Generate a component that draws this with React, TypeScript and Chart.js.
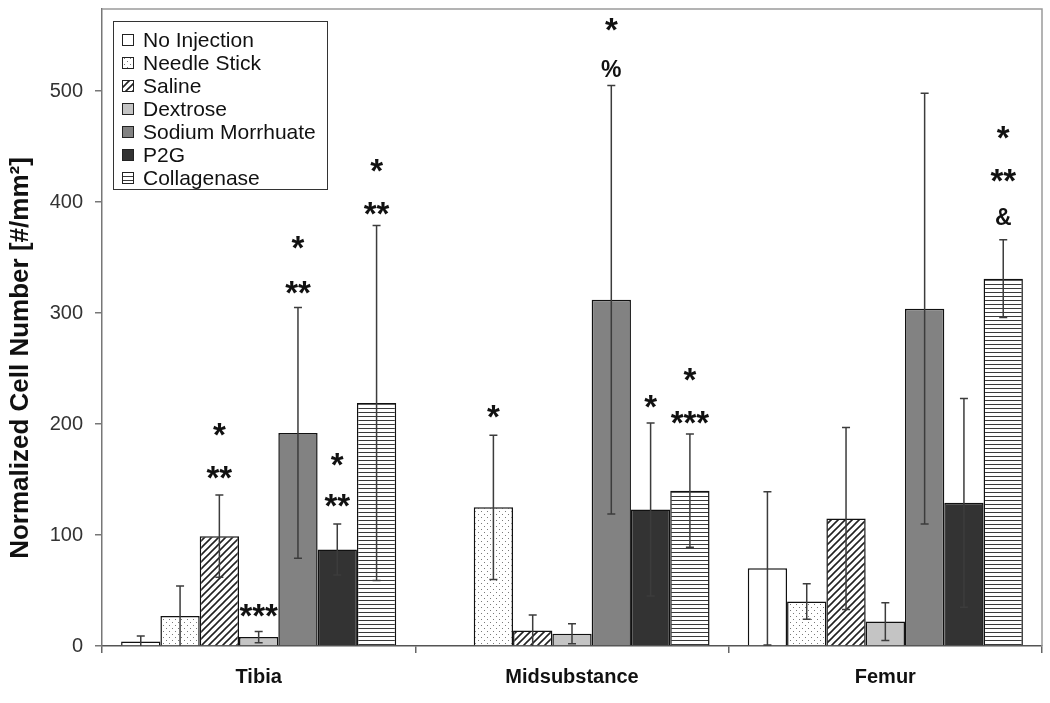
import React, { useEffect, useRef } from "react";
import { Chart, registerables } from "chart.js";

Chart.register(...registerables);

const FONT = '"Liberation Sans", Arial, Helvetica, sans-serif';

// ---- data ----
const categories = ["Tibia", "Midsubstance", "Femur"];
const seriesNames = [
  "No Injection",
  "Needle Stick",
  "Saline",
  "Dextrose",
  "Sodium Morrhuate",
  "P2G",
  "Collagenase",
];
const noInjection = [4, 0, 70];
const needleStick = [27, 125, 40];
const saline = [99, 14, 115];
const dextrose = [8, 11, 22];
const sodiumMorrhuate = [192, 312, 304];
const p2g = [87, 123, 129];
const collagenase = [219, 140, 331];

const noInjectionErr = [5, 0, 69];
const needleStickErr = [27, 65, 16];
const salineErr = [37, 14, 82];
const dextroseErr = [5, 9, 17];
const sodiumMorrhuateErr = [113, 193, 194];
const p2gErr = [23, 78, 94];
const collagenaseErr = [160, 51, 35];

const yTicks = [0, 100, 200, 300, 400, 500];
const yMax = 574;
const yTitle = "Normalized Cell Number [#/mm²]";

// significance marks: [series index, category index, text, value position]
const marks: [number, number, string, number][] = [
  [2, 0, "*", 197],
  [2, 0, "**", 158],
  [3, 0, "***", 34],
  [4, 0, "*", 366],
  [4, 0, "**", 325],
  [5, 0, "*", 170],
  [5, 0, "**", 133],
  [6, 0, "*", 435],
  [6, 0, "**", 396],
  [1, 1, "*", 213],
  [4, 1, "*", 562],
  [4, 1, "%", 520],
  [5, 1, "*", 222],
  [6, 1, "*", 247],
  [6, 1, "***", 208],
  [6, 2, "*", 465],
  [6, 2, "**", 426],
  [6, 2, "&", 387],
];

const values = [noInjection, needleStick, saline, dextrose, sodiumMorrhuate, p2g, collagenase];
const errors = [
  noInjectionErr,
  needleStickErr,
  salineErr,
  dextroseErr,
  sodiumMorrhuateErr,
  p2gErr,
  collagenaseErr,
];

function makeFill(kind: string): string | CanvasPattern {
  if (kind === "white") return "#ffffff";
  if (kind === "light") return "#c4c4c4";
  if (kind === "mid") return "#828282";
  if (kind === "dark") return "#333333";
  const c = document.createElement("canvas");
  const g = c.getContext("2d") as CanvasRenderingContext2D;
  if (kind === "dots") {
    c.width = 6;
    c.height = 6;
    g.fillStyle = "#ffffff";
    g.fillRect(0, 0, 6, 6);
    g.fillStyle = "#7a7a7a";
    g.fillRect(1, 1, 1, 1);
    g.fillRect(4, 4, 1, 1);
  } else if (kind === "diag") {
    c.width = 7;
    c.height = 7;
    g.fillStyle = "#ffffff";
    g.fillRect(0, 0, 7, 7);
    g.strokeStyle = "#222222";
    g.lineWidth = 1.6;
    g.beginPath();
    g.moveTo(-1, 8);
    g.lineTo(8, -1);
    g.moveTo(-3, 3);
    g.lineTo(3, -3);
    g.moveTo(4, 10);
    g.lineTo(10, 4);
    g.stroke();
  } else if (kind === "hlines") {
    c.width = 4;
    c.height = 4;
    g.fillStyle = "#ffffff";
    g.fillRect(0, 0, 4, 4);
    g.fillStyle = "#3a3a3a";
    g.fillRect(0, 0, 4, 1);
  }
  return g.createPattern(c, "repeat") as CanvasPattern;
}

const fillKinds = ["white", "dots", "diag", "light", "mid", "dark", "hlines"];

export default function App() {
  const ref = useRef<HTMLCanvasElement | null>(null);

  useEffect(() => {
    if (!ref.current) return;
    const fills = fillKinds.map(makeFill);

    const overlay = {
      id: "overlay",
      afterDatasetsDraw(chart: any) {
        const ctx = chart.ctx as CanvasRenderingContext2D;
        const ys = chart.scales.y;
        // error bars
        chart.data.datasets.forEach((ds: any, di: number) => {
          const meta = chart.getDatasetMeta(di);
          meta.data.forEach((bar: any, i: number) => {
            const v = ds.data[i];
            const e = errors[di][i];
            if (!e) return;
            const top = ys.getPixelForValue(v + e);
            const low = Math.max(0, v - e);
            const bot = ys.getPixelForValue(low);
            ctx.save();
            ctx.strokeStyle = "#3c3c3c";
            ctx.lineWidth = 1.5;
            ctx.beginPath();
            ctx.moveTo(bar.x, top);
            ctx.lineTo(bar.x, bot);
            ctx.moveTo(bar.x - 4, top);
            ctx.lineTo(bar.x + 4, top);
            if (low > 0) {
              ctx.moveTo(bar.x - 4, bot);
              ctx.lineTo(bar.x + 4, bot);
            }
            ctx.stroke();
            ctx.restore();
          });
        });
        // significance marks
        marks.forEach(([si, ci, text, val]) => {
          const bar = chart.getDatasetMeta(si).data[ci];
          const y = ys.getPixelForValue(val);
          const isStar = /^\*+$/.test(text);
          const size = isStar ? 33 : 23;
          ctx.save();
          ctx.fillStyle = "#111111";
          ctx.font = `bold ${size}px ${FONT}`;
          ctx.textAlign = "center";
          ctx.textBaseline = "alphabetic";
          const off = isStar ? 0.57 : 0.36;
          ctx.fillText(text, bar.x, y + off * size);
          ctx.restore();
        });
      },
      afterDraw(chart: any) {
        const ctx = chart.ctx as CanvasRenderingContext2D;
        const a = chart.chartArea;
        // frame (top + right)
        ctx.save();
        ctx.strokeStyle = "#9a9a9a";
        ctx.lineWidth = 1.5;
        ctx.beginPath();
        ctx.moveTo(a.left, a.top);
        ctx.lineTo(a.right, a.top);
        ctx.lineTo(a.right, a.bottom);
        ctx.stroke();
        ctx.restore();
        // y axis title
        ctx.save();
        ctx.translate(21, 358);
        ctx.rotate(-Math.PI / 2);
        ctx.fillStyle = "#111111";
        ctx.font = `bold 26px ${FONT}`;
        ctx.textAlign = "center";
        ctx.textBaseline = "middle";
        ctx.fillText(yTitle, 0, 0);
        ctx.restore();
        // legend box
        const lx = a.left + 11;
        const ly = a.top + 12;
        const lw = 214;
        const rowH = 23;
        const lh = 19 + rowH * (seriesNames.length - 1) + 11;
        ctx.save();
        ctx.fillStyle = "#ffffff";
        ctx.fillRect(lx, ly, lw, lh);
        ctx.strokeStyle = "#333333";
        ctx.lineWidth = 1;
        ctx.strokeRect(lx + 0.5, ly + 0.5, lw, lh);
        seriesNames.forEach((name, i) => {
          const cy = ly + 19 + i * rowH;
          ctx.fillStyle = fills[i] as any;
          ctx.fillRect(lx + 9, cy - 6, 12, 12);
          ctx.strokeStyle = "#222222";
          ctx.lineWidth = 1;
          ctx.strokeRect(lx + 9.5, cy - 5.5, 11, 11);
          ctx.fillStyle = "#111111";
          ctx.font = `21px ${FONT}`;
          ctx.textAlign = "left";
          ctx.textBaseline = "middle";
          ctx.fillText(name, lx + 30, cy + 1);
        });
        ctx.restore();
      },
    };

    const chart = new Chart(ref.current, {
      type: "bar",
      data: {
        labels: categories,
        datasets: seriesNames.map((name, i) => ({
          label: name,
          data: values[i],
          backgroundColor: fills[i] as any,
          borderColor: "#111111",
          borderWidth: 1.5,
          categoryPercentage: 0.878,
          barPercentage: 1.0,
        })),
      },
      options: {
        animation: false,
        responsive: true,
        maintainAspectRatio: false,
        layout: { padding: { top: 9, right: 8, left: 0, bottom: 0 } },
        plugins: {
          legend: { display: false },
          tooltip: { enabled: false },
        },
        scales: {
          x: {
            grid: {
              display: true,
              drawOnChartArea: false,
              tickLength: 7,
              color: "#666666",
              lineWidth: 1.5,
              offset: true,
            },
            border: { display: true, color: "#555555", width: 1.5 },
            ticks: {
              font: { family: FONT, size: 20, weight: "bold" },
              color: "#111111",
              padding: 12,
              maxRotation: 0,
            },
            afterFit: (s: any) => {
              s.height = 57;
              s.paddingLeft = 0;
              s.paddingRight = 0;
            },
          },
          y: {
            min: 0,
            max: yMax,
            afterBuildTicks: (s: any) => {
              s.ticks = yTicks.map((v) => ({ value: v }));
            },
            grid: {
              display: true,
              drawOnChartArea: false,
              tickLength: 7,
              color: "#777777",
              lineWidth: 1.5,
            },
            border: { display: true, color: "#777777", width: 1.5 },
            ticks: {
              font: { family: FONT, size: 20 },
              color: "#333333",
              padding: 12,
            },
            afterFit: (s: any) => {
              s.width = 102;
              s.paddingTop = 0;
              s.paddingBottom = 0;
            },
          },
        },
      },
      plugins: [overlay],
    });
    return () => chart.destroy();
  }, []);

  return (
    <div style={{ position: "fixed", left: 0, top: 0, width: 1050, height: 703, background: "#ffffff" }}>
      <canvas ref={ref} />
    </div>
  );
}
